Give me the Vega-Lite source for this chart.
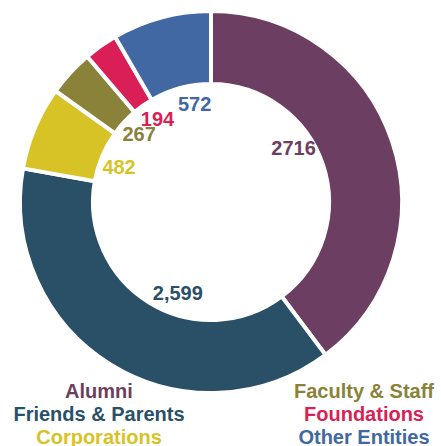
{
  "$schema": "https://vega.github.io/schema/vega-lite/v6.json",
  "width": 422,
  "height": 404,
  "autosize": "none",
  "padding": {"left": 0, "top": 0, "right": 19, "bottom": 42},
  "background": "white",
  "data": {
    "values": [
      {"category": "Alumni", "value": 2716, "label": "2716", "idx": 0},
      {"category": "Friends & Parents", "value": 2599, "label": "2,599", "idx": 1},
      {"category": "Corporations", "value": 482, "label": "482", "idx": 2},
      {"category": "Faculty & Staff", "value": 267, "label": "267", "idx": 3},
      {"category": "Foundations", "value": 194, "label": "194", "idx": 4},
      {"category": "Other Entities", "value": 572, "label": "572", "idx": 5}
    ]
  },
  "encoding": {
    "order": {"field": "idx", "type": "quantitative"},
    "color": {
      "field": "category",
      "type": "nominal",
      "scale": {
        "domain": ["Alumni", "Friends & Parents", "Corporations", "Faculty & Staff", "Foundations", "Other Entities"],
        "range": ["#6C3F62", "#2A5068", "#D8C327", "#8A8239", "#DA1F57", "#4168A3"]
      },
      "legend": {
        "title": null,
        "orient": "none",
        "legendX": 79,
        "legendY": 382,
        "columns": 2,
        "symbolSize": 0,
        "symbolStrokeWidth": 0,
        "symbolOpacity": 0,
        "labelOffset": 0,
        "labelFont": "Liberation Sans",
        "labelFontSize": 20,
        "labelFontWeight": "bold",
        "labelLimit": 400,
        "columnPadding": 108,
        "rowPadding": 3,
        "labelAlign": "center",
        "encode": {"labels": {"update": {"fill": {"scale": "color", "field": "value"}}}}
      }
    }
  },
  "layer": [
    {
      "mark": {"type": "arc", "outerRadius": 191, "innerRadius": 118, "stroke": "white", "strokeWidth": 4},
      "encoding": {"theta": {"field": "value", "type": "quantitative", "stack": true}}
    },
    {
      "mark": {"type": "text", "radius": 98, "font": "Liberation Sans", "fontSize": 20, "fontWeight": "bold"},
      "encoding": {
        "theta": {"field": "value", "type": "quantitative", "stack": true, "scale": {"type": "pow", "exponent": 1.15, "domain": [0, 6700], "zero": true}},
        "text": {"field": "label", "type": "nominal"}
      }
    }
  ],
  "resolve": {"scale": {"theta": "independent"}},
  "config": {"view": {"stroke": null}}
}
